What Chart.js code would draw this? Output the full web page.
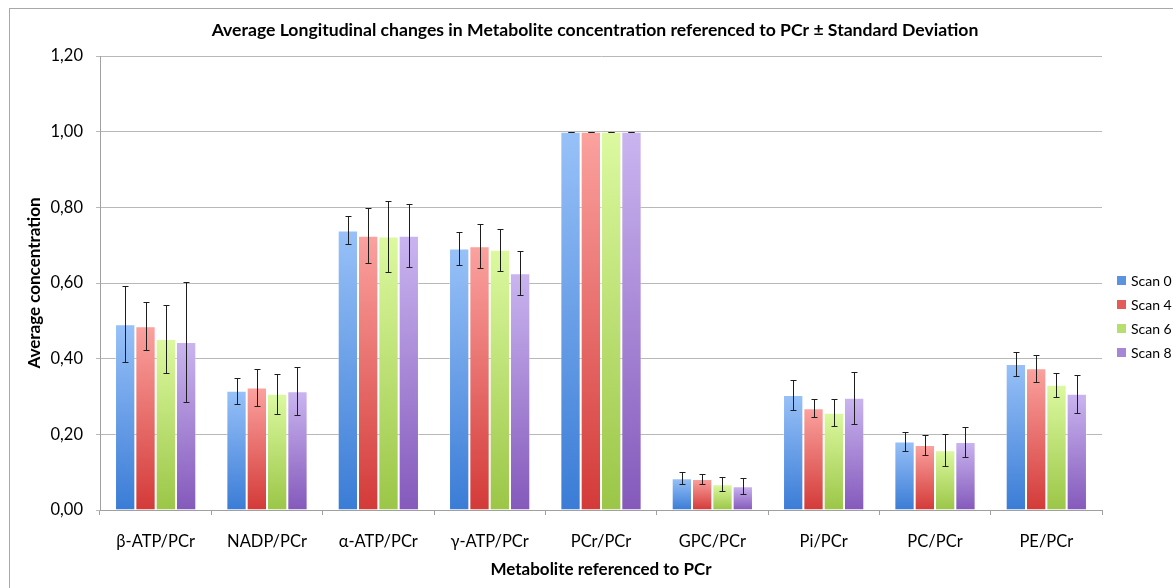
<!DOCTYPE html>
<html>
<head>
<meta charset="utf-8">
<script src="https://cdn.jsdelivr.net/npm/chart.js@4/dist/chart.umd.min.js"></script>
<style>
  html, body { margin: 0; padding: 0; background: #fff; }
  canvas { display: block; }
</style>
</head>
<body>
<canvas id="chart" width="1173" height="588"></canvas>
<script>
const categories = ['β-ATP/PCr', 'NADP/PCr', 'α-ATP/PCr', 'γ-ATP/PCr', 'PCr/PCr', 'GPC/PCr', 'Pi/PCr', 'PC/PCr', 'PE/PCr'];
const seriesNames = ['Scan 0', 'Scan 4', 'Scan 6', 'Scan 8'];

const scan0 = [0.491, 0.315, 0.739, 0.691, 1.00, 0.084, 0.304, 0.181, 0.386];
const scan4 = [0.486, 0.324, 0.725, 0.697, 1.00, 0.082, 0.269, 0.172, 0.375];
const scan6 = [0.452, 0.307, 0.723, 0.688, 1.00, 0.068, 0.257, 0.158, 0.331];
const scan8 = [0.444, 0.314, 0.725, 0.626, 1.00, 0.063, 0.297, 0.180, 0.307];

// standard deviations, same order as above
const sd0 = [0.100, 0.035, 0.037, 0.043, 0, 0.016, 0.039, 0.025, 0.032];
const sd4 = [0.063, 0.049, 0.072, 0.058, 0, 0.012, 0.024, 0.026, 0.036];
const sd6 = [0.091, 0.053, 0.094, 0.055, 0, 0.018, 0.036, 0.042, 0.031];
const sd8 = [0.158, 0.064, 0.084, 0.058, 0, 0.022, 0.069, 0.039, 0.051];

const yTicks = [0, 0.2, 0.4, 0.6, 0.8, 1.0, 1.2];

// light (top) / dark (bottom) / legend swatch
const palette = [
  ['#98c1f8', '#3a7cd6', '#5b93e0'],
  ['#fba29f', '#d33a38', '#e45c5a'],
  ['#dcf9a0', '#9bc647', '#b8de70'],
  ['#cab5f0', '#8459bb', '#a686d6']
];

const FONT = 'Lato, "Open Sans", sans-serif';

function barFill(top, bottom) {
  return (ctx) => {
    const chart = ctx.chart;
    if (!chart.chartArea || ctx.type !== 'data') return bottom;
    const y = chart.scales.y;
    const y0 = y.getPixelForValue(0);
    const y1 = y.getPixelForValue(ctx.raw);
    if (!isFinite(y1) || Math.abs(y0 - y1) < 1) return bottom;
    const g = chart.ctx.createLinearGradient(0, y1, 0, y0);
    g.addColorStop(0, top);
    g.addColorStop(1, bottom);
    return g;
  };
}

const values = [scan0, scan4, scan6, scan8];
const errors = [sd0, sd4, sd6, sd8];

const datasets = values.map((data, i) => ({
  label: seriesNames[i],
  data: data,
  sd: errors[i],
  backgroundColor: barFill(palette[i][0], palette[i][1]),
  borderColor: 'rgba(255,255,255,0.35)',
  borderWidth: 1,
  barPercentage: 1.0,
  categoryPercentage: 0.73
}));

// error bars (mean ± SD) drawn on top of each bar
const errorBars = {
  id: 'errorBars',
  afterDatasetsDraw(chart) {
    const ctx = chart.ctx;
    const y = chart.scales.y;
    ctx.save();
    ctx.strokeStyle = '#1e1e1e';
    ctx.lineWidth = 1;
    chart.data.datasets.forEach((ds, di) => {
      const meta = chart.getDatasetMeta(di);
      meta.data.forEach((bar, i) => {
        const v = ds.data[i];
        const s = ds.sd[i];
        const x = Math.round(bar.x) + 0.5;
        const yt = Math.round(y.getPixelForValue(v + s)) + 0.5;
        const yb = Math.round(y.getPixelForValue(v - s)) + 0.5;
        ctx.beginPath();
        ctx.moveTo(x, yt); ctx.lineTo(x, yb);
        ctx.moveTo(x - 3, yt); ctx.lineTo(x + 3, yt);
        ctx.moveTo(x - 3, yb); ctx.lineTo(x + 3, yb);
        ctx.stroke();
      });
    });
    ctx.restore();
  }
};

// title, legend and the outer frame
const decorations = {
  id: 'decorations',
  afterDraw(chart) {
    const ctx = chart.ctx;
    ctx.save();
    ctx.strokeStyle = '#a8a8a8';
    ctx.lineWidth = 1;
    ctx.strokeRect(9.5, 8.5, 1300, 700);

    ctx.fillStyle = '#000';
    ctx.font = 'bold 17.6px ' + FONT;
    ctx.textAlign = 'center';
    ctx.textBaseline = 'middle';
    ctx.fillText('Average Longitudinal changes in Metabolite concentration referenced to PCr ± Standard Deviation', 595, 30);

    ctx.font = '14px ' + FONT;
    ctx.textAlign = 'left';
    seriesNames.forEach((name, i) => {
      const cy = 280 + i * 24;
      ctx.fillStyle = palette[i][2];
      ctx.fillRect(1117, cy - 4, 9, 9);
      ctx.fillStyle = '#000';
      ctx.fillText(name, 1131, cy + 1);
    });
    ctx.restore();
  }
};

new Chart(document.getElementById('chart'), {
  type: 'bar',
  data: { labels: categories, datasets: datasets },
  options: {
    responsive: false,
    animation: false,
    layout: { padding: { left: 10, right: 71, top: 56, bottom: 8 } },
    plugins: {
      legend: { display: false },
      title: { display: false },
      tooltip: { enabled: false }
    },
    scales: {
      x: {
        afterFit(scale) { scale.height = 70; },
        grid: {
          offset: true,
          drawOnChartArea: false,
          tickLength: 5,
          color: '#a0a0a0'
        },
        border: { color: '#a0a0a0' },
        ticks: {
          color: '#000',
          font: { family: FONT, size: 16.5 },
          padding: 17,
          maxRotation: 0
        },
        title: {
          display: true,
          text: 'Metabolite referenced to PCr',
          color: '#000',
          font: { family: FONT, size: 17, weight: 'bold' },
          padding: { top: 0, bottom: 0 }
        }
      },
      y: {
        min: 0,
        max: 1.2,
        afterFit(scale) { scale.width = 90; },
        afterBuildTicks(scale) { scale.ticks = yTicks.map(v => ({ value: v })); },
        grid: {
          color: '#b8b8b8',
          tickLength: 4
        },
        border: { color: '#a0a0a0' },
        ticks: {
          color: '#000',
          font: { family: FONT, size: 16.5 },
          padding: 13,
          callback: (v) => v.toFixed(2).replace('.', ',')
        },
        title: {
          display: true,
          text: 'Average concentration',
          color: '#000',
          font: { family: FONT, size: 17, weight: 'bold' },
          padding: { top: 14, bottom: 0 }
        }
      }
    }
  },
  plugins: [errorBars, decorations]
});
</script>
</body>
</html>
